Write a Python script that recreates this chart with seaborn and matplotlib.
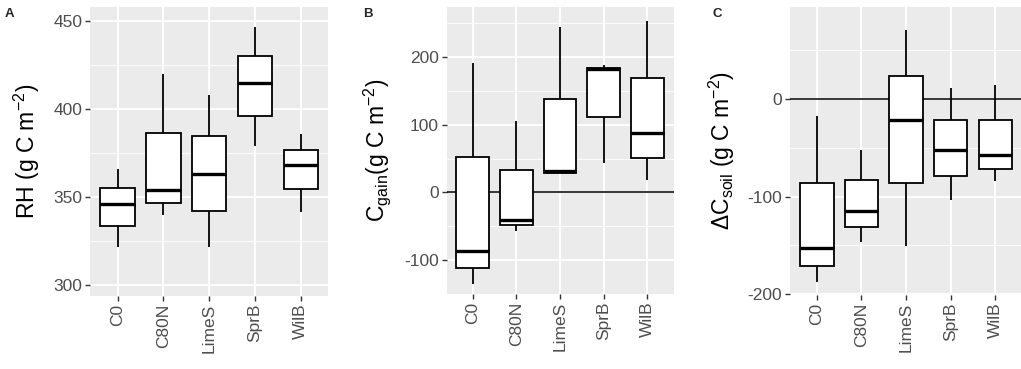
import numpy as np
import pandas as pd
import matplotlib
matplotlib.use("Agg")
import matplotlib.pyplot as plt
import seaborn as sns

categories = ["C0", "C80N", "LimeS", "SprB", "WilB"]

# five-number summaries per category: [min, Q1, median, Q3, max]
rh_stats = {
    "C0":    [321.8, 333.7, 346.0, 355.3, 365.9],
    "C80N":  [339.8, 346.4, 354.0, 386.6, 419.9],
    "LimeS": [321.8, 342.0, 363.0, 384.8, 408.0],
    "SprB":  [379.2, 396.2, 414.8, 430.3, 446.8],
    "WilB":  [341.7, 354.4, 368.4, 376.7, 385.8],
}
cgain_stats = {
    "C0":    [-135.7, -111.5, -86.3, 51.8, 190.9],
    "C80N":  [-57.7, -48.8, -41.0, 32.6, 105.6],
    "LimeS": [29.1, 29.1, 31.6, 137.6, 245.2],
    "SprB":  [43.9, 111.5, 182.5, 183.5, 188.5],
    "WilB":  [18.3, 51.3, 87.3, 169.7, 254.0],
}
dcsoil_stats = {
    "C0":    [-187.8, -170.8, -152.5, -86.1, -16.9],
    "C80N":  [-146.4, -131.5, -114.6, -83.0, -52.5],
    "LimeS": [-150.8, -86.1, -21.7, 23.7, 70.5],
    "SprB":  [-103.0, -78.6, -52.2, -21.0, 11.2],
    "WilB":  [-84.0, -71.2, -57.0, -21.0, 14.6],
}

panel_letters = ["A", "B", "C"]
ylabels = [r"RH (g C m$^{-2}$)", r"C$_{\mathrm{gain}}$(g C m$^{-2}$)", r"$\Delta$C$_{\mathrm{soil}}$ (g C m$^{-2}$)"]
yticks = [[300, 350, 400, 450], [-100, 0, 100, 200], [-200, -100, 0]]
yminor = [[325, 375, 425], [-50, 50, 150, 250], [-150, -50, 50]]
ylims = [(293.75, 458.0), (-150.5, 274.3), (-200.8, 94.5)]
hline = [False, True, True]

sns.set_theme(style="white")
plt.rcParams["font.family"] = ["Liberation Sans", "DejaVu Sans"]
plt.rcParams["mathtext.fontset"] = "custom"
plt.rcParams["mathtext.rm"] = "Liberation Sans"
plt.rcParams["mathtext.it"] = "Liberation Sans:italic"
plt.rcParams["mathtext.bf"] = "Liberation Sans:bold"

W, H = 1021, 369
fig = plt.figure(figsize=(W / 100, H / 100), dpi=100)
fig.patch.set_facecolor("white")

rects = [(90, 328.4, 7, 296), (446.5, 673.5, 7, 294), (790, 1022, 7, 295)]

def to_df(stats):
    rows = []
    for c in categories:
        for v in stats[c]:
            rows.append((c, v))
    return pd.DataFrame(rows, columns=["cat", "val"])

all_stats = [rh_stats, cgain_stats, dcsoil_stats]
for i, (stats, (l, r, t, b)) in enumerate(zip(all_stats, rects)):
    ax = fig.add_axes([l / W, (H - b) / H, (r - l) / W, (b - t) / H])
    ax.set_facecolor("#EBEBEB")
    for yv in yminor[i]:
        ax.axhline(yv, color="white", lw=0.6, zorder=0)
    for yv in yticks[i]:
        ax.axhline(yv, color="white", lw=1.3, zorder=0)
    for xi in range(len(categories)):
        ax.axvline(xi, color="white", lw=1.3, zorder=0)
    if hline[i]:
        ax.axhline(0, color="black", lw=1.1, zorder=1)
    df = to_df(stats)
    sns.boxplot(data=df, x="cat", y="val", order=categories, ax=ax, width=0.75,
                whis=np.inf, color="white", linecolor="black", linewidth=1.3,
                showcaps=False, fill=True,
                medianprops=dict(color="black", linewidth=2.4),
                boxprops=dict(facecolor="white", edgecolor="black", zorder=2),
                whiskerprops=dict(color="black", linewidth=1.3))
    ax.set_xlim(-0.6, 4.6)
    ax.set_ylim(*ylims[i])
    ax.set_yticks(yticks[i])
    ax.set_yticklabels([str(v) for v in yticks[i]], fontsize=12.5, color="#4D4D4D")
    ax.set_xticks(range(len(categories)))
    ax.set_xticklabels(categories, rotation=90, fontsize=12.5, color="#4D4D4D")
    ax.tick_params(axis="both", length=3.5, width=1.0, color="#333333", pad=2, left=True, bottom=True)
    ax.set_xlabel("")
    ax.set_ylabel(ylabels[i], fontsize=16.5, color="black", labelpad=8)
    for s in ax.spines.values():
        s.set_visible(False)
    ax.grid(False)

fig.text(5 / W, 1 - 14 / H, "A", fontsize=9.5, fontweight="bold", va="center", ha="left")
fig.text(363 / W, 1 - 14 / H, "B", fontsize=9.5, fontweight="bold", va="center", ha="left")
fig.text(712 / W, 1 - 14 / H, "C", fontsize=9.5, fontweight="bold", va="center", ha="left")

fig.savefig("out.png", dpi=100, facecolor="white")
